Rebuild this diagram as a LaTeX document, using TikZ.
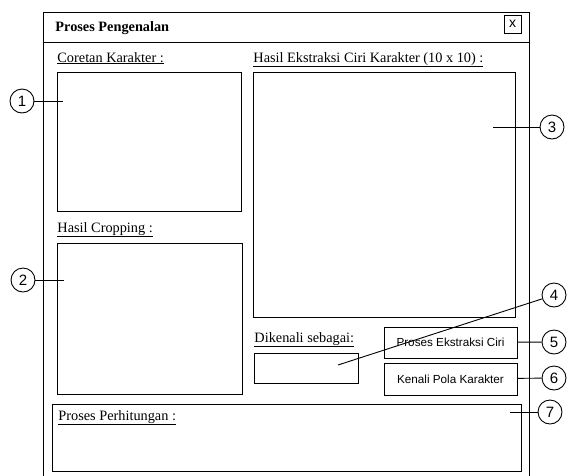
\documentclass[tikz,border=0pt]{standalone}
\usepackage{fontspec}
\setmainfont{Liberation Serif}
\newfontfamily\uisans{Liberation Sans}
\begin{document}
\begin{tikzpicture}[x=1pt,y=-1pt,
  line width=0.9pt,
  caption/.style={anchor=base west, inner sep=0pt, font=\fontsize{14.3}{16}\selectfont},
  button/.style={draw, inner sep=0pt, font=\uisans\fontsize{11.7}{13}\selectfont},
  callout/.style={draw, circle, minimum size=24pt, inner sep=0pt, font=\uisans\fontsize{15}{17}\selectfont},
  leader/.style={line width=0.9pt}]
\useasboundingbox (0,0) rectangle (567,475);

% window frame and title bar
\coordinate (wtl) at (43,12);
\coordinate (wtr) at (529,12);
\coordinate (wbl) at (43,480);
\coordinate (wbr) at (529,480);
\coordinate (tbl) at (43,42);
\coordinate (tbr) at (529,42);
\draw (wbl) -- (wtl) -- (wtr) -- (wbr);
\draw (tbl) -- (tbr);
\node[caption, font=\bfseries\fontsize{14.3}{16}\selectfont] (title) at (55,31) {Proses Pengenalan};
\node[draw, inner sep=0pt, minimum width=17pt, minimum height=18pt,
      font=\uisans\fontsize{14}{16}\selectfont] (close) at (512.5,24) {x};

% panels
\node[caption] (lab1) at (57,62) {\underline{Coretan Karakter :}};
\node[draw, minimum width=184pt, minimum height=139pt] (box1) at (149,141.5) {};
\node[caption] (lab2) at (57,232) {\underline{Hasil Cropping :}};
\node[draw, minimum width=185pt, minimum height=151pt] (box2) at (149.5,318.5) {};
\node[caption] (lab3) at (253,62) {\underline{Hasil Ekstraksi Ciri Karakter (10 x 10) :}};
\node[draw, minimum width=262pt, minimum height=245pt] (box3) at (384,194.5) {};
\node[caption] (lab4) at (254,342) {\underline{Dikenali sebagai:}};
\node[draw, minimum width=104pt, minimum height=30pt] (box4) at (306,368) {};
\node[button, minimum width=133pt, minimum height=31pt] (btn5) at (450.5,342.5) {Proses Ekstraksi Ciri};
\node[button, minimum width=133pt, minimum height=32pt] (btn6) at (450.5,379) {Kenali Pola Karakter};
\node[draw, minimum width=469pt, minimum height=67pt] (box7) at (286.5,437.5) {};
\node[caption] (lab7) at (58,420) {\underline{Proses Perhitungan :}};

% numbered callouts
\node[callout] (c1) at (22,101) {1};
\node[callout] (c2) at (23,280) {2};
\node[callout] (c3) at (552,127) {3};
\node[callout] (c4) at (554,295) {4};
\node[callout] (c5) at (554,342) {5};
\node[callout] (c6) at (554,378) {6};
\node[callout] (c7) at (550,412) {7};

\coordinate (p1) at (63,101);
\coordinate (p2) at (64,280);
\coordinate (p3) at (493,127);
\coordinate (p4) at (338,365);
\coordinate (p7) at (510,412);

\draw[leader] (c1) -- (p1);
\draw[leader] (c2) -- (p2);
\draw[leader] (c3) -- (p3);
\draw[leader] (c4) -- (p4);
\draw[leader] (c5) -- (btn5);
\draw[leader] (c6) -- (btn6);
\draw[leader] (c7) -- (p7);
\end{tikzpicture}
\end{document}
